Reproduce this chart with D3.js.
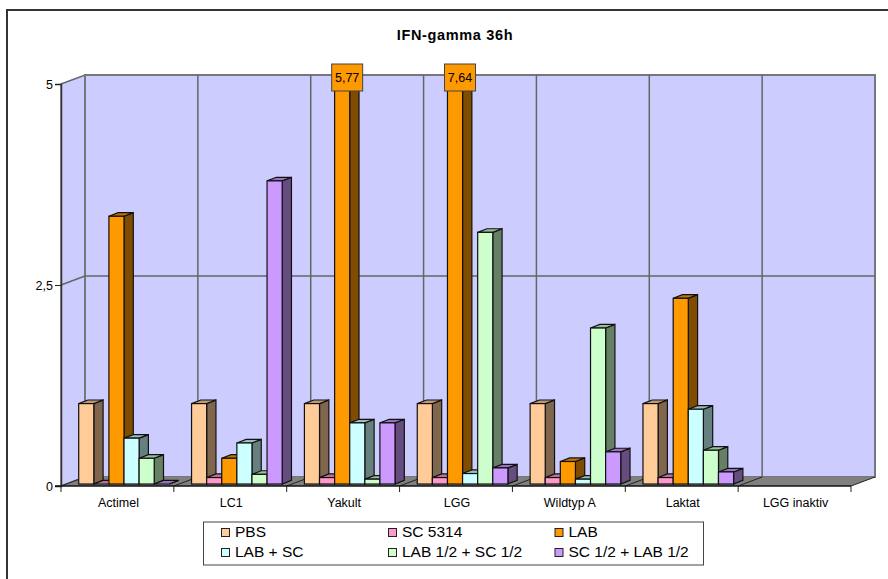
<!DOCTYPE html>
<html><head><meta charset="utf-8">
<script src="https://cdn.jsdelivr.net/npm/d3@7/dist/d3.min.js"></script>
<style>html,body{margin:0;padding:0;background:#fff}svg{display:block}text{font-family:"Liberation Sans",Arial,sans-serif;fill:#000}</style>
</head><body><div id="chart"></div>
<script>
const categories = ["Actimel","LC1","Yakult","LGG","Wildtyp A","Laktat","LGG inaktiv"];
const seriesNames = ["PBS","SC 5314","LAB","LAB + SC","LAB 1/2 + SC 1/2","SC 1/2 + LAB 1/2"];
const seriesColors = ["#FFCC99","#FF99CC","#FF9900","#CCFFFF","#CCFFCC","#CC99FF"];
const pbs      = [1,1,1,1,1,1,null];
const sc5314   = [0,0.08,0.08,0.08,0.08,0.08,null];
const lab      = [3.33,0.32,5.77,7.64,0.28,2.31,null];
const labSc    = [0.57,0.51,0.76,0.13,0.06,0.93,null];
const labHalf  = [0.32,0.12,0.06,3.13,1.94,0.42,null];
const scHalf   = [0,3.77,0.76,0.2,0.4,0.15,null];
const allSeries = [pbs,sc5314,lab,labSc,labHalf,scHalf];
const yTicks = [0,2.5,5];
const title = "IFN-gamma 36h";

const W=888,H=579;
const svg=d3.select("#chart").append("svg").attr("width",W).attr("height",H);
const x0=61,x1=851,yB=486,yT=84,dX=24,dY=9;
const barDX=9.3,barDY=3.6,barFX=5.3,barFY=2;
const x=d3.scaleBand().domain(categories).range([x0,x1]);
const y=d3.scaleLinear().domain([0,5]).range([yB,yT]).clamp(true);
const grid="#666";
const poly=(pts,f,s,w)=>svg.append("polygon").attr("points",pts.map(p=>p.join(",")).join(" ")).attr("fill",f).attr("stroke",s||"none").attr("stroke-width",w||1);
const line=(a,b,s,w)=>svg.append("line").attr("x1",a[0]).attr("y1",a[1]).attr("x2",b[0]).attr("y2",b[1]).attr("stroke",s).attr("stroke-width",w||1);

// chart frame
svg.append("rect").attr("x",7).attr("y",10).attr("width",W+20).attr("height",H+20).attr("fill","#fff").attr("stroke","#333").attr("stroke-width",2);
svg.append("text").attr("x",455).attr("y",40).attr("text-anchor","middle").attr("font-size",14.5).attr("letter-spacing",0.65).attr("font-weight","bold").text(title);

// walls and floor
poly([[x0,yT],[x0+dX,yT-dY],[x0+dX,yB-dY],[x0,yB]],"#CCCCFF",grid,1.5);
poly([[x0+dX,yT-dY],[x1+dX,yT-dY],[x1+dX,yB-dY],[x0+dX,yB-dY]],"#CCCCFF","#777",2);
poly([[x0,yB],[x0+dX,yB-dY],[x1+dX,yB-dY],[x1,yB]],"#808080","none");
yTicks.slice(1,-1).forEach(t=>{
  line([x0,y(t)],[x0+dX,y(t)-dY],grid,1.5);
  line([x0+dX,y(t)-dY],[x1+dX,y(t)-dY],grid,1.5);
});
categories.forEach(c=>{
  const bx=x(c);
  if(bx>x0) line([bx+dX,yT-dY],[bx+dX,yB-dY],grid,1.5);
  line([bx,yB],[bx+dX,yB-dY],"#222",1);
});
line([x1,yB],[x1+dX,yB-dY],"#222",1);

// bars
const step=15.1, start=12.4;
const shade=(c,k)=>{const r=d3.rgb(c);return d3.rgb(r.r*k,r.g*k,r.b*k).formatHex();};
const labels=[];
categories.forEach((c,i)=>{
  allSeries.forEach((s,j)=>{
    const v=s[i];
    if(v===null) return;
    const l=x(c)+barFX+start+j*step, r=l+step;
    const b=y(0)-barFY, t=y(v)-barFY, col=seriesColors[j];
    const stroke="#111";
    poly([[r,t],[r+barDX,t-barDY],[r+barDX,b-barDY],[r,b]],shade(col,0.5),stroke,1.2);
    poly([[l,t],[l+barDX,t-barDY],[r+barDX,t-barDY],[r,t]],shade(col,0.75),stroke,1.2);
    if(v>0) svg.append("rect").attr("x",l).attr("y",t).attr("width",step).attr("height",b-t).attr("fill",col).attr("stroke",stroke).attr("stroke-width",1.2);
    if(v>5) labels.push({v,cx:(l+r)/2+5,col});
  });
});
labels.forEach(d=>{
  const g=svg.append("g");
  g.append("rect").attr("x",d.cx-15.5).attr("y",64).attr("width",31).attr("height",27).attr("fill",d.col).attr("stroke","#444").attr("stroke-width",1);
  g.append("text").attr("x",d.cx).attr("y",81.5).attr("text-anchor","middle").attr("font-size",12.5).text(String(d.v).replace(".",","));
});

// axes
const yAxis=d3.axisLeft(y).tickValues(yTicks).tickSize(6).tickPadding(2).tickFormat(d=>String(d).replace(".",","));
const ga=svg.append("g").attr("transform",`translate(${x0},0)`).call(yAxis);
ga.select(".domain").attr("stroke","#333").attr("stroke-width",1.5);
ga.selectAll("line").attr("stroke","#222");
ga.selectAll("text").attr("font-size",12.5).attr("font-family",'"Liberation Sans",Arial,sans-serif').attr("fill","#000");
const xAxis=d3.axisBottom(x).tickSize(0).tickPadding(10);
const gx=svg.append("g").attr("transform",`translate(1,${yB})`).call(xAxis);
gx.select(".domain").remove();
gx.selectAll("text").attr("font-size",12.5).attr("font-family",'"Liberation Sans",Arial,sans-serif').attr("fill","#000").attr("y",21).attr("dy",0);
line([x0-6,yB],[x1,yB],"#111",1.5);
categories.concat([null]).forEach((c,i)=>{const p=c?x(c):x1; line([p,yB],[p,yB+6],"#222",1);});

// legend
svg.append("rect").attr("x",203.5).attr("y",522).attr("width",500).attr("height",43).attr("fill","#fff").attr("stroke","#444").attr("stroke-width",1);
const colX=[221.5,388.5,555], rowY=[532.5,552.5];
seriesNames.forEach((n,i)=>{
  const cx=colX[i%3], cy=rowY[Math.floor(i/3)];
  svg.append("rect").attr("x",cx).attr("y",cy-4).attr("width",8).attr("height",8).attr("fill",seriesColors[i]).attr("stroke","#222");
  svg.append("text").attr("x",cx+13.5).attr("y",cy+4.5).attr("font-size",15.5).text(n);
});
</script></body></html>
